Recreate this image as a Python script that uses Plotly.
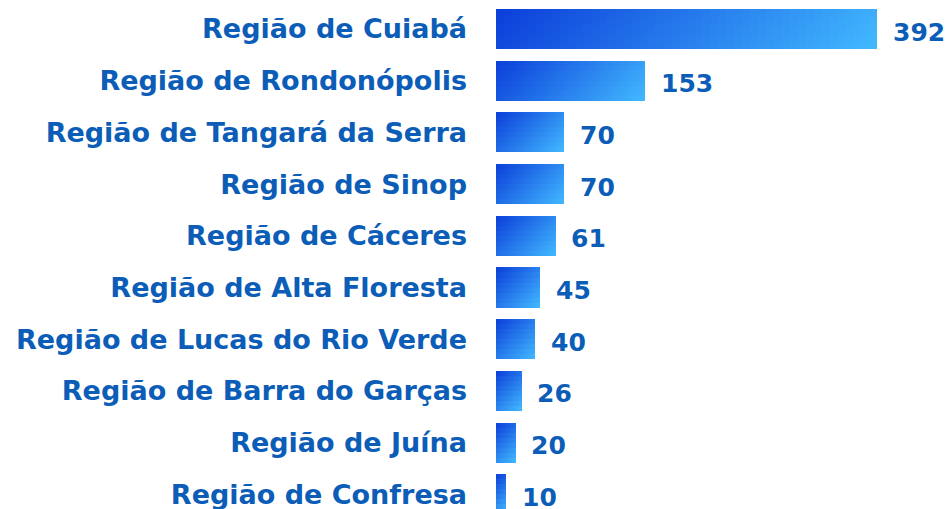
import plotly.graph_objects as go

# ---- data ----
regions = [
    "Região de Cuiabá",
    "Região de Rondonópolis",
    "Região de Tangará da Serra",
    "Região de Sinop",
    "Região de Cáceres",
    "Região de Alta Floresta",
    "Região de Lucas do Rio Verde",
    "Região de Barra do Garças",
    "Região de Juína",
    "Região de Confresa",
]
values = [392, 153, 70, 70, 61, 45, 40, 26, 20, 10]

# ---- style / layout parameters ----
W, H = 950, 509
ML, MR, MT, MB = 496, 65, 0, 0
XMAX = 400
ROW_PX = 51.7
BAR_W = 0.774
FIRST_CENTER_PX = 29
TEXT_COLOR = "#0b5db7"
C0 = (11, 62, 217)     # dark blue
C1 = (66, 185, 255)    # light blue
FONT = "DejaVu Sans"
NX, NY = 48, 8

plot_w = W - ML - MR
px_per_unit = plot_w / XMAX
bar_h_px = BAR_W * ROW_PX

y_top = -FIRST_CENTER_PX / ROW_PX
y_bot = y_top + (H - MT - MB) / ROW_PX


def mix(t):
    t = max(0.0, min(1.0, t))
    return "rgb(%d,%d,%d)" % tuple(round(a + (b - a) * t) for a, b in zip(C0, C1))


fig = go.Figure()
# gradient bars: painter's algorithm, each cell rectangle extends to bar's bottom-right
for j in range(NY):
    v = (j + 0.5) / NY
    off = -BAR_W / 2 + j * BAR_W / NY
    wdt = BAR_W - j * BAR_W / NY
    for k in range(NX):
        u = (k + 0.5) / NX
        colors = []
        bases = []
        lens = []
        for val in values:
            wpx = val * px_per_unit
            t = (u * wpx + v * bar_h_px) / (wpx + bar_h_px)
            colors.append(mix(t))
            bases.append(val * k / NX)
            lens.append(val * (NX - k) / NX)
        fig.add_trace(go.Bar(
            y=regions, x=lens, base=bases, orientation="h",
            offset=off, width=wdt,
            marker=dict(color=colors, line=dict(width=0)),
            hoverinfo="skip", showlegend=False,
        ))

for r, val in zip(regions, values):
    fig.add_annotation(
        x=val, y=r, text=str(val), showarrow=False,
        xanchor="left", yanchor="middle", xshift=14, yshift=-3,
        font=dict(family=FONT, size=25, color=TEXT_COLOR, weight="bold"),
    )

fig.update_layout(
    width=W, height=H, autosize=False,
    margin=dict(l=ML, r=MR, t=MT, b=MB, pad=0, autoexpand=False),
    barmode="overlay", bargap=0,
    plot_bgcolor="white", paper_bgcolor="white",
    xaxis=dict(range=[0, XMAX], visible=False, fixedrange=True),
    yaxis=dict(
        type="category", categoryorder="array", categoryarray=regions,
        range=[y_bot, y_top], showgrid=False, zeroline=False, showline=False,
        ticks="", ticklabelstandoff=28,
        tickfont=dict(family=FONT, size=27, color=TEXT_COLOR, weight="bold"),
        fixedrange=True,
    ),
)

fig.write_html(
    "out.html",
    config={"displayModeBar": False},
    post_script="document.body.style.margin='0';document.body.style.overflow='hidden';",
)
